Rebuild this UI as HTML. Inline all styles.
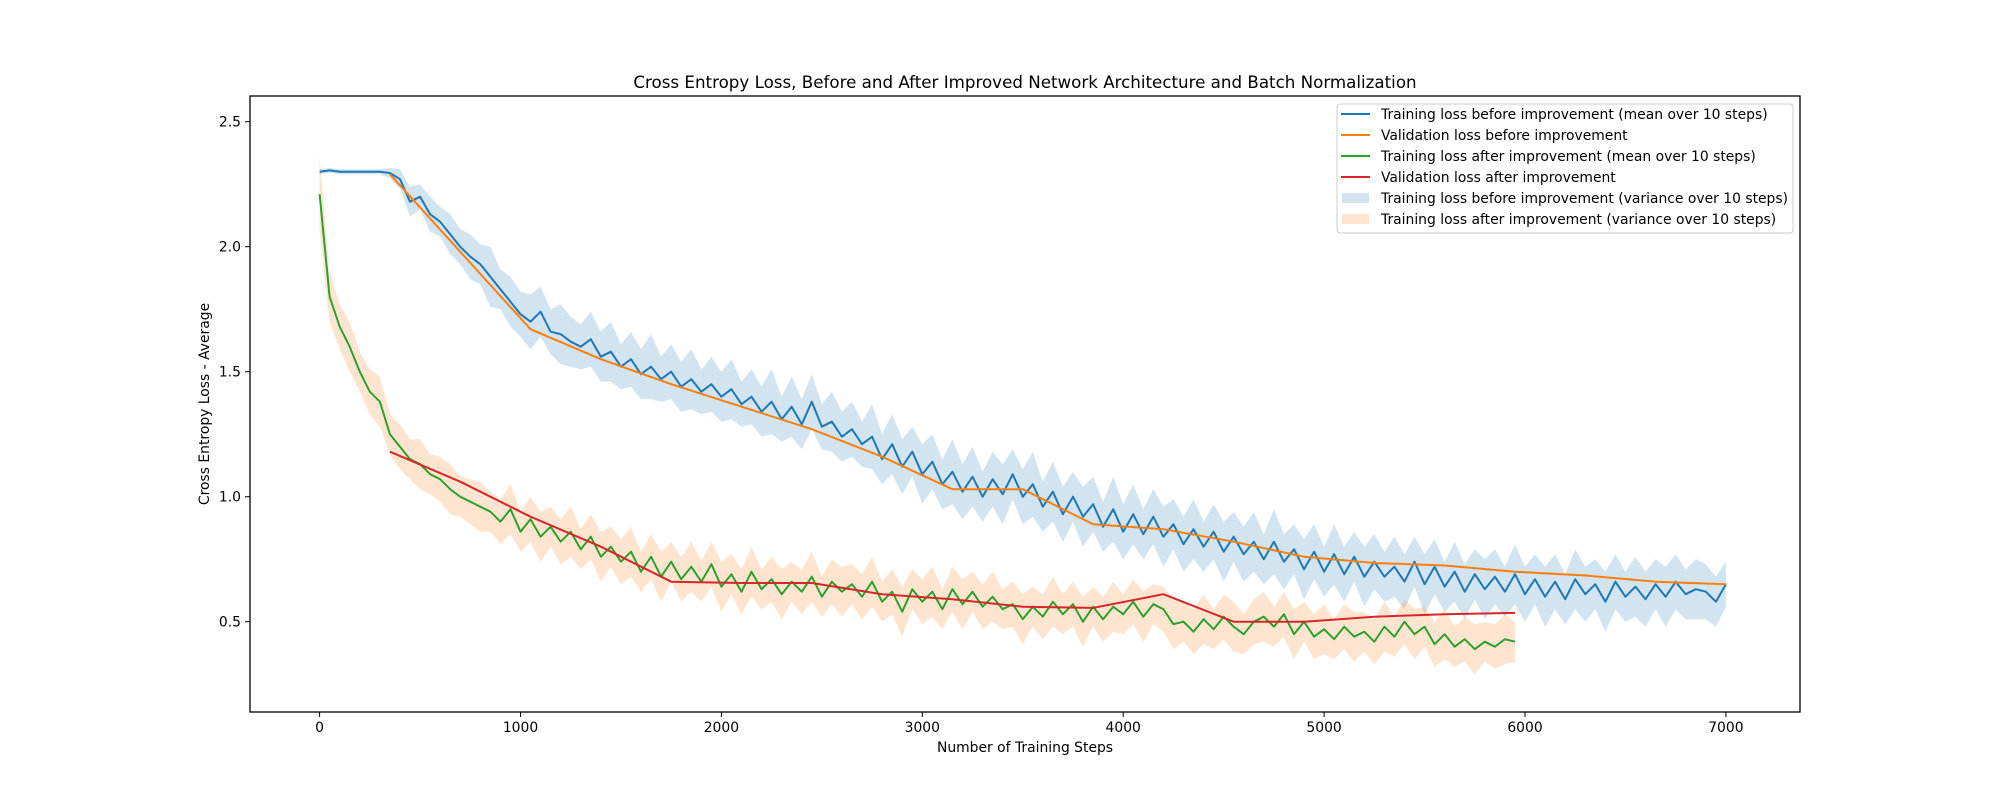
<!DOCTYPE html>
<html><head><meta charset="utf-8"><style>
html,body{margin:0;padding:0;background:#fff;}
svg{display:block;font-family:"DejaVu Sans","Liberation Sans",sans-serif;}
</style></head><body>
<svg id="chart" width="2000" height="800" viewBox="0 0 2000 800" xmlns="http://www.w3.org/2000/svg">
<rect x="0" y="0" width="2000" height="800" fill="#fff"/>
<g id="bands"></g><g id="lines"></g>
<rect x="250" y="96" width="1550" height="616" fill="none" stroke="#000" stroke-width="1.3"/>
<g id="axes"></g>
<text x="1025" y="88" font-size="16.7" text-anchor="middle">Cross Entropy Loss, Before and After Improved Network Architecture and Batch Normalization</text>
<text x="1025" y="752" font-size="13.9" text-anchor="middle">Number of Training Steps</text>
<text transform="translate(209,404) rotate(-90)" font-size="13.9" text-anchor="middle">Cross Entropy Loss - Average</text>
<g>
<rect x="1337" y="104" width="456" height="129" rx="3" fill="#fff" fill-opacity="0.8" stroke="#ccc"/>
<g><line x1="1341" y1="114" x2="1370" y2="114" stroke="#1f77b4" stroke-width="2"/><text x="1381" y="119" font-size="13.9">Training loss before improvement (mean over 10 steps)</text></g>
<g><line x1="1341" y1="135" x2="1370" y2="135" stroke="#ff7f0e" stroke-width="2"/><text x="1381" y="140" font-size="13.9">Validation loss before improvement</text></g>
<g><line x1="1341" y1="156" x2="1370" y2="156" stroke="#2ca02c" stroke-width="2"/><text x="1381" y="161" font-size="13.9">Training loss after improvement (mean over 10 steps)</text></g>
<g><line x1="1341" y1="177" x2="1370" y2="177" stroke="#d62728" stroke-width="2"/><text x="1381" y="182" font-size="13.9">Validation loss after improvement</text></g>
<g><rect x="1342" y="193" width="27" height="10" fill="#1f77b4" fill-opacity="0.2"/><text x="1381" y="203" font-size="13.9">Training loss before improvement (variance over 10 steps)</text></g>
<g><rect x="1342" y="214" width="27" height="10" fill="#ff7f0e" fill-opacity="0.2"/><text x="1381" y="224" font-size="13.9">Training loss after improvement (variance over 10 steps)</text></g>
</g>
</svg>
<script>
const stepInterval = 50;
const trainBefore = [2.30,2.305,2.30,2.30,2.30,2.30,2.30,2.295,2.27,2.18,2.20,2.13,2.10,2.05,2.00,1.96,1.93,1.88,1.83,1.78,1.73,1.70,1.74,1.66,1.65,1.62,1.60,1.63,1.56,1.58,1.52,1.55,1.49,1.52,1.47,1.50,1.44,1.47,1.42,1.45,1.40,1.43,1.37,1.40,1.34,1.38,1.31,1.36,1.29,1.38,1.28,1.30,1.24,1.27,1.21,1.24,1.15,1.21,1.12,1.18,1.09,1.14,1.05,1.10,1.02,1.08,1.00,1.07,1.01,1.09,1.00,1.05,0.96,1.02,0.93,1.00,0.92,0.97,0.88,0.95,0.86,0.93,0.85,0.92,0.84,0.89,0.81,0.87,0.80,0.86,0.78,0.84,0.77,0.82,0.75,0.82,0.74,0.79,0.71,0.78,0.70,0.77,0.69,0.76,0.68,0.74,0.68,0.72,0.66,0.74,0.65,0.72,0.64,0.70,0.62,0.69,0.63,0.68,0.62,0.69,0.61,0.67,0.60,0.66,0.59,0.67,0.61,0.65,0.58,0.66,0.60,0.64,0.59,0.65,0.60,0.66,0.61,0.63,0.62,0.58,0.65];
const trainBeforeSpread = [0.01,0.01,0.01,0.01,0.01,0.01,0.01,0.02,0.04,0.06,0.05,0.07,0.06,0.08,0.07,0.09,0.08,0.12,0.08,0.10,0.09,0.11,0.10,0.09,0.12,0.10,0.09,0.11,0.10,0.12,0.09,0.11,0.10,0.13,0.09,0.11,0.10,0.12,0.09,0.11,0.10,0.12,0.09,0.11,0.10,0.13,0.09,0.12,0.10,0.11,0.09,0.12,0.10,0.11,0.09,0.13,0.10,0.12,0.11,0.10,0.12,0.11,0.10,0.13,0.11,0.12,0.10,0.11,0.12,0.10,0.11,0.13,0.10,0.12,0.11,0.10,0.12,0.11,0.10,0.13,0.11,0.12,0.10,0.11,0.12,0.10,0.11,0.12,0.10,0.11,0.12,0.10,0.11,0.12,0.10,0.13,0.11,0.10,0.12,0.11,0.10,0.12,0.11,0.10,0.12,0.11,0.10,0.12,0.11,0.10,0.12,0.11,0.10,0.12,0.11,0.10,0.12,0.11,0.10,0.12,0.11,0.10,0.12,0.11,0.10,0.12,0.11,0.10,0.12,0.11,0.10,0.12,0.11,0.10,0.12,0.11,0.10,0.12,0.11,0.10,0.09];
const valBeforeSteps = [350,700,1050,1400,1750,2100,2450,2800,3150,3500,3850,4200,4550,4900,5250,5600,5950,6300,6650,7000];
const valBefore = [2.29,1.98,1.67,1.55,1.45,1.36,1.27,1.16,1.03,1.03,0.89,0.87,0.82,0.76,0.735,0.725,0.70,0.685,0.66,0.65];
const trainAfter = [2.21,1.80,1.68,1.60,1.50,1.42,1.38,1.25,1.20,1.15,1.13,1.09,1.07,1.03,1.00,0.98,0.96,0.94,0.90,0.95,0.86,0.91,0.84,0.88,0.82,0.86,0.79,0.84,0.76,0.80,0.74,0.78,0.70,0.76,0.68,0.74,0.67,0.72,0.66,0.73,0.64,0.69,0.62,0.70,0.63,0.67,0.61,0.66,0.62,0.68,0.60,0.66,0.62,0.65,0.60,0.66,0.58,0.62,0.54,0.63,0.58,0.62,0.55,0.63,0.57,0.62,0.56,0.60,0.55,0.57,0.51,0.56,0.52,0.58,0.53,0.57,0.50,0.56,0.51,0.56,0.53,0.58,0.52,0.57,0.55,0.49,0.50,0.46,0.51,0.47,0.52,0.48,0.45,0.50,0.52,0.48,0.53,0.45,0.50,0.44,0.47,0.43,0.48,0.44,0.46,0.42,0.48,0.44,0.50,0.45,0.48,0.41,0.45,0.40,0.43,0.39,0.42,0.40,0.43,0.42];
const trainAfterSpread = [0.15,0.10,0.09,0.10,0.08,0.09,0.10,0.08,0.09,0.08,0.10,0.08,0.09,0.10,0.08,0.09,0.10,0.08,0.09,0.10,0.08,0.09,0.10,0.08,0.09,0.10,0.08,0.09,0.10,0.08,0.09,0.10,0.08,0.09,0.10,0.08,0.09,0.10,0.08,0.09,0.10,0.08,0.09,0.10,0.08,0.09,0.10,0.08,0.09,0.10,0.08,0.09,0.10,0.08,0.09,0.10,0.08,0.09,0.10,0.08,0.09,0.10,0.08,0.09,0.10,0.08,0.09,0.10,0.08,0.09,0.10,0.08,0.09,0.10,0.08,0.09,0.10,0.08,0.09,0.10,0.08,0.09,0.10,0.08,0.09,0.10,0.08,0.09,0.10,0.08,0.09,0.10,0.08,0.09,0.10,0.08,0.09,0.10,0.08,0.09,0.10,0.08,0.09,0.10,0.08,0.09,0.10,0.08,0.09,0.10,0.08,0.09,0.10,0.08,0.09,0.10,0.08,0.09,0.10,0.08];
const valAfterSteps = [350,700,1050,1400,1750,2100,2450,2800,3150,3500,3850,4200,4550,4900,5250,5600,5950];
const valAfter = [1.18,1.06,0.92,0.80,0.66,0.655,0.655,0.61,0.59,0.56,0.555,0.61,0.50,0.50,0.52,0.53,0.535];
const xTicks = [0,1000,2000,3000,4000,5000,6000,7000];
const yTicks = [0.5,1.0,1.5,2.0,2.5];
const yTickLabels = ["0.5","1.0","1.5","2.0","2.5"];

const NS = "http://www.w3.org/2000/svg";
function xs(s){ return 319.6 + 0.2009*s; }
function ys(v){ return 121.7 + (2.5 - v)*250; }
function mk(tag, attrs, parent){ const e=document.createElementNS(NS,tag); for(const k in attrs) e.setAttribute(k,attrs[k]); parent.appendChild(e); return e; }
const bands=document.getElementById('bands'), lines=document.getElementById('lines'), axes=document.getElementById('axes');

function band(mean, spread, color, name){
  let up=[], lo=[];
  mean.forEach((v,i)=>{ up.push(xs(i*stepInterval).toFixed(1)+','+ys(v+spread[i]).toFixed(1)); lo.push(xs(i*stepInterval).toFixed(1)+','+ys(v-spread[i]).toFixed(1)); });
  const p = mk('polygon',{points: up.concat(lo.reverse()).join(' '), fill: color, 'fill-opacity': 0.2, stroke:'none'}, bands);
  
  
}
function line(stepsArr, vals, color, name){
  const pts = vals.map((v,i)=> xs(stepsArr ? stepsArr[i] : i*stepInterval).toFixed(1)+','+ys(v).toFixed(1)).join(' ');
  const p = mk('polyline',{points: pts, fill:'none', stroke: color, 'stroke-width': 2, 'stroke-linejoin':'round'}, lines);
  
  
}
band(trainBefore, trainBeforeSpread, '#1f77b4', 'band-train-before');
band(trainAfter, trainAfterSpread, '#ff7f0e', 'band-train-after');
line(null, trainBefore, '#1f77b4', 'line-train-before');
line(valBeforeSteps, valBefore, '#ff7f0e', 'line-val-before');
line(null, trainAfter, '#2ca02c', 'line-train-after');
line(valAfterSteps, valAfter, '#d62728', 'line-val-after');

xTicks.forEach(t=>{
  const x=xs(t);
  const l=mk('line',{x1:x,y1:712,x2:x,y2:717,stroke:'#000','stroke-width':1},axes);
  
  
  const tx=mk('text',{x:x,y:732,'font-size':13.9,'text-anchor':'middle'},axes);
  tx.textContent=String(t);
  
  
});
yTicks.forEach((t,i)=>{
  const y=ys(t);
  const l=mk('line',{x1:245,y1:y,x2:250,y2:y,stroke:'#000','stroke-width':1},axes);
  
  
  const tx=mk('text',{x:241,y:y+5,'font-size':13.9,'text-anchor':'end'},axes);
  tx.textContent=yTickLabels[i];
  
  
});
</script>
</body></html>
